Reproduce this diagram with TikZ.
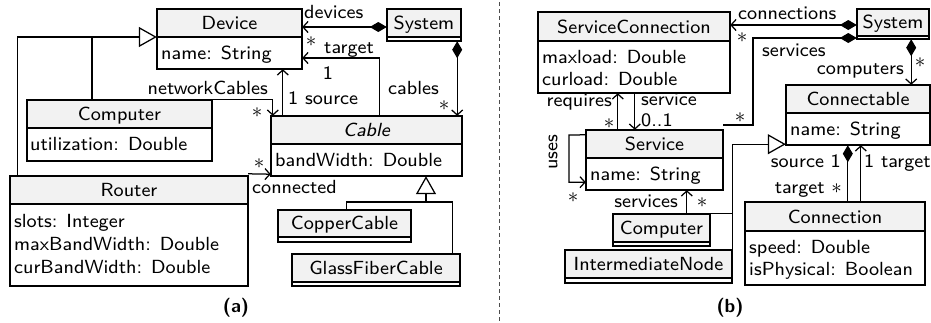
\RequirePackage{fix-cm}
\documentclass[tikz,border=0pt]{standalone}
\usepackage{fontspec}
\setsansfont{lmsans8-regular.otf}[ItalicFont=lmsans8-oblique.otf, BoldFont=lmsans10-bold.otf]
\usetikzlibrary{arrows.meta,fit}

\tikzset{
  boxline/.style={draw=black, line width=1.7pt},
  hdrfill/.style={fill=black!5},
  conn/.style={draw=black, line width=1.25pt},
  nav/.style={-{Straight Barb[length=5pt,width=11pt]}},
  comp/.style={{Diamond[length=17pt,width=10pt]}-},
  compnav/.style={{Diamond[length=17pt,width=10pt]}-{Straight Barb[length=5pt,width=11pt]}},
  gen/.style={-{Triangle[open,fill=white,length=18pt,width=20pt]}},
  lbl/.style={inner sep=0pt},
  mult/.style={inner sep=0pt, font=\fontsize{21}{21}\selectfont},
  attrtext/.style={inner sep=0pt, anchor=base west},
  divider/.style={draw=black!70, line width=0.8pt, dash pattern=on 4pt off 3pt},
}

% class box: name, x1, y1, x2, y of header line, y2, title
\newcommand\klass[7]{%
  \fill[hdrfill] (#2,#3) rectangle (#4,#5);
  \draw[boxline] (#2,#3) rectangle (#4,#6);
  \draw[boxline] (#2,#5) -- (#4,#5);
  \node[fit={(#2,#3)(#4,#6)}, inner sep=0pt] (#1) {};
  \node[anchor=base, inner sep=0pt] (#1-title) at ({(#2+#4)/2},{#5-8}) {#7};
}

\begin{document}
\begin{tikzpicture}[x=1pt, y=-1pt, font=\fontsize{19}{22}\selectfont\sffamily]
\useasboundingbox (0,0) rectangle (931,322);

% ---------------- (a) network model ----------------
\klass{device}{157}{9}{302}{37}{69}{Device}
\node[attrtext] (device-a1) at (161,59) {name: String};

\klass{sysA}{387}{9}{461}{37}{41}{System}

\klass{computerA}{27}{100}{212}{128}{161}{Computer}
\node[attrtext] (computerA-a1) at (30,150) {utilization: Double};

\klass{router}{10}{176}{248}{204}{286}{Router}
\node[attrtext] (router-a1) at (14,227) {slots: Integer};
\node[attrtext] (router-a2) at (14,250) {maxBandWidth: Double};
\node[attrtext] (router-a3) at (14,273) {curBandWidth: Double};

\klass{cable}{271}{116}{462}{144}{176}{\itshape Cable}
\node[attrtext] (cable-a1) at (275,166) {bandWidth: Double};

\klass{copper}{278}{210}{411}{237}{242}{CopperCable}
\klass{glass}{292}{254}{460}{282}{286}{GlassFiberCable}

% generalisations into Device
\coordinate (devjoin) at (92,37);
\draw[conn, gen] ([xshift=8pt]router.north west) |- ([yshift=2pt]device.west);
\draw[conn] (computerA.north -| devjoin) -- (devjoin);

% networkCables
\draw[conn, nav] (computerA.north east) -| ([xshift=2pt]cable.north west);
\node[lbl, anchor=base east] (lblNet) at (268,94) {networkCables};
\node[mult] (lblNetM) at (257,113) {$\ast$};

% source
\draw[conn, nav] ([xshift=12pt]cable.north west) -- ([xshift=12pt]cable.north west |- device.south);
\node[lbl, anchor=base west] (lblSrc) at (288,104) {1 source};

% target
\draw[conn, nav] ([xshift=109pt]cable.north west) |- ([yshift=-19pt]device.east);
\node[lbl, anchor=base west] (lblTgt) at (324,53) {target};
\node[lbl, anchor=base] (lblTgtM) at (328,79) {1};

% devices
\draw[conn, compnav] ([yshift=-2pt]sysA.west) -- ([yshift=-2pt]sysA.west -| device.east);
\node[lbl, anchor=base west] (lblDev) at (304,18) {devices};
\node[mult] (lblDevM) at (311,42) {$\ast$};

% cables
\draw[conn, compnav] ([xshift=-4pt]sysA.south east) -- ([xshift=-4pt]sysA.south east |- cable.north);
\node[lbl, anchor=base west] (lblCab) at (388,94) {cables};
\node[mult] (lblCabM) at (444,106) {$\ast$};

% connected
\draw[conn, nav] ([yshift=2pt]router.north east) -- ([yshift=2pt]cable.south west);
\node[mult] (lblConM) at (259,164) {$\ast$};
\node[lbl, anchor=base west] (lblCon) at (252,193) {connected};

% generalisations into Cable
\coordinate (cabjoin) at (426,202);
\draw[conn, gen] (cabjoin) -- (cabjoin |- cable.south);
\draw[conn] ([xshift=69pt]copper.north west) |- (cabjoin) -| ([xshift=161pt]glass.north west);

\node[lbl, font=\fontsize{19}{22}\selectfont\sffamily\bfseries] (capA) at (236,308) {(a)};

% separator
\coordinate (sepTop) at (499,2);
\coordinate (sepBot) at (499,322);
\draw[divider] (sepTop) -- (sepBot);

% ---------------- (b) service model ----------------
\klass{servconn}{538}{12}{730}{41}{93}{ServiceConnection}
\node[attrtext] (servconn-a1) at (542,63) {maxload: Double};
\node[attrtext] (servconn-a2) at (542,85) {curload: Double};

\klass{sysB}{857}{9}{929}{36}{39}{System}

\klass{connectable}{786}{85}{930}{113}{145}{Connectable}
\node[attrtext] (connectable-a1) at (790,135) {name: String};

\klass{service}{586}{130}{723}{158}{190}{Service}
\node[attrtext] (service-a1) at (590,180) {name: String};

\klass{computerB}{613}{214}{710}{242}{246}{Computer}
\klass{internode}{565}{250}{732}{278}{283}{IntermediateNode}

\klass{connection}{745}{202}{925}{231}{285}{Connection}
\node[attrtext] (connection-a1) at (749,253) {speed: Double};
\node[attrtext] (connection-a2) at (749,275) {isPhysical: Boolean};

% connections
\draw[conn, compnav] ([yshift=-1pt]sysB.west) -- ([yshift=-1pt]sysB.west -| servconn.east);
\node[lbl, anchor=base west] (lblConns) at (738,19) {connections};
\node[mult] (lblConnsM) at (742,38) {$\ast$};

% services of the system
\coordinate (svcbend) at (753,125);
\draw[conn, comp] ([yshift=-14pt]sysB.west) -| (svcbend) -- (svcbend -| service.east);
\node[lbl, anchor=base west] (lblSvcs) at (762,56) {services};
\node[mult] (lblSvcsM) at (740,118) {$\ast$};

% computers
\draw[conn, compnav] ([xshift=-18pt]sysB.south east) -- ([xshift=-18pt]sysB.south east |- connectable.north);
\node[lbl, anchor=base east] (lblComps) at (904,74) {computers};
\node[mult] (lblCompsM) at (920,63) {$\ast$};

% generalisations into Connectable
\draw[conn, gen] (internode.north east) |- ([yshift=1pt]connectable.south west);
\draw[conn] (computerB.north east) -- (computerB.north east -| internode.north east);

% source / target of a connection
\draw[conn, comp] ([xshift=62pt]connectable.south west) -- ([xshift=62pt]connectable.south west |- connection.north);
\draw[conn, nav] ([xshift=75pt]connectable.south west |- connection.north) -- ([xshift=75pt]connectable.south west);
\node[lbl, anchor=base east] (lblSrcB) at (841,167) {source 1};
\node[lbl, anchor=base west] (lblTgtB) at (864,167) {1 target};
\node[lbl, anchor=base east] (lblTgtB2) at (842,193) {target {\fontsize{21}{21}\selectfont$\ast$}};

% requires / service
\draw[conn, nav] ([xshift=32pt]service.north west) -- ([xshift=32pt]service.north west |- servconn.south);
\node[lbl, anchor=base east] (lblReq) at (612,106) {requires};
\node[mult] (lblReqM) at (609,124) {$\ast$};
\draw[conn, nav] ([xshift=97pt]servconn.south west) -- ([xshift=97pt]servconn.south west |- service.north);
\node[lbl, anchor=base west] (lblSvc) at (641,105) {service};
\node[lbl, anchor=base west] (lblSvcM) at (641,126) {0..1};

% uses (self association)
\coordinate (usesbend) at (569,135);
\draw[conn, nav] ([yshift=-5pt]service.north west) -- (usesbend) |- ([yshift=8pt]service.south west);
\node[lbl, rotate=90] (lblUses) at (553,152) {uses};
\node[mult] (lblUsesM) at (573,198) {$\ast$};

% services of a computer
\draw[conn, nav] ([xshift=74pt]computerB.north west) -- ([xshift=74pt]computerB.north west |- service.south);
\node[lbl, anchor=base east] (lblCSvc) at (678,207) {services};
\node[mult] (lblCSvcM) at (702,203) {$\ast$};

\node[lbl, font=\fontsize{19}{22}\selectfont\sffamily\bfseries] (capB) at (730,308) {(b)};
\end{tikzpicture}
\end{document}
